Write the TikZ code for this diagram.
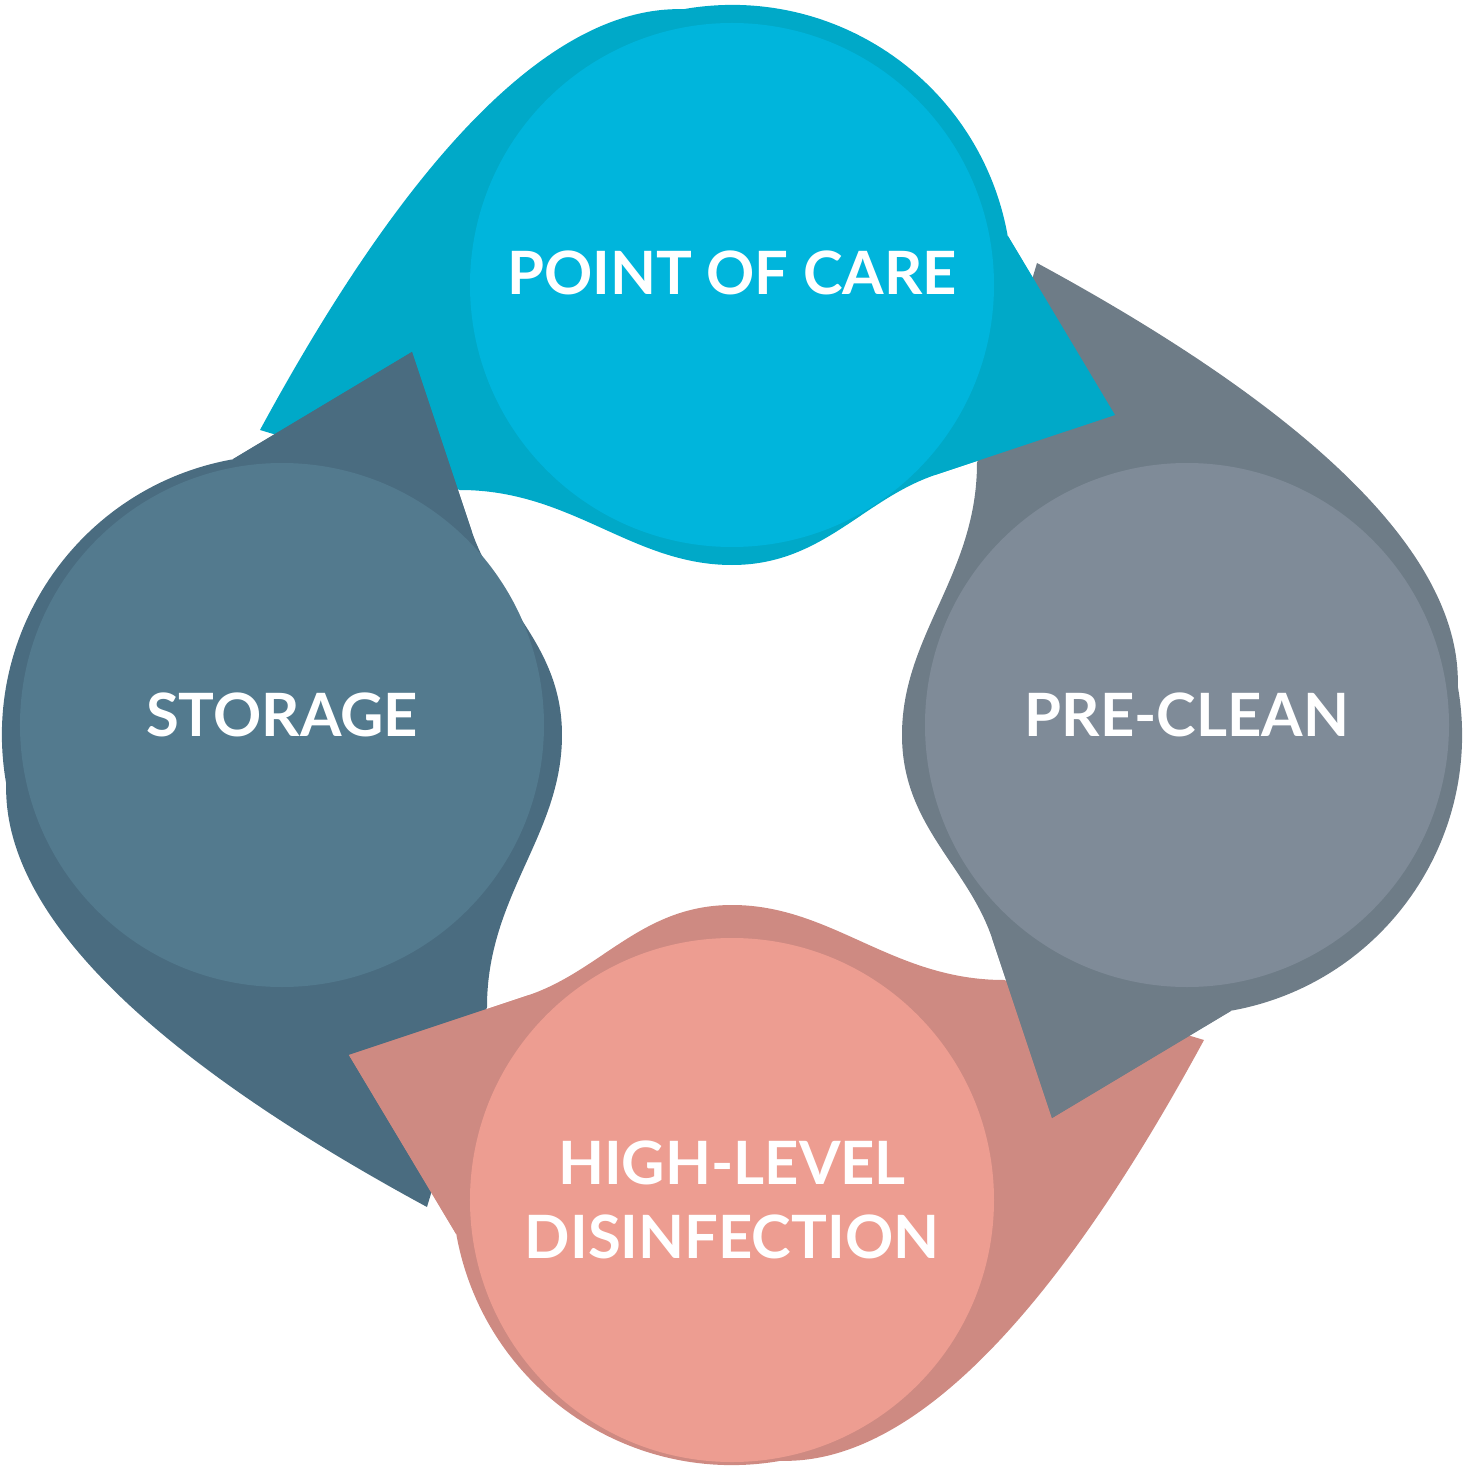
\documentclass[tikz,border=0pt]{standalone}
\usepackage{fontspec}
\setmainfont{Lato}
\definecolor{careout}{HTML}{00A9C8}
\definecolor{carein}{HTML}{00B5DC}
\definecolor{storeout}{HTML}{4A6C80}
\definecolor{storein}{HTML}{537A8E}
\definecolor{hldout}{HTML}{CE8A82}
\definecolor{hldin}{HTML}{ED9D91}
\definecolor{preout}{HTML}{6E7C87}
\definecolor{prein}{HTML}{7F8B98}
\begin{document}
\begin{tikzpicture}[
    every node/.style={font=\fontsize{17}{21}\selectfont\bfseries, text=white, align=center},
    stage/.style={circle, minimum size=5.24cm, inner sep=0pt}]

    \useasboundingbox (-7.32,-7.40) rectangle (7.34,7.35);

    % blob bodies
    \foreach \ang/\col in {0/careout, 90/storeout, 180/hldout, 270/preout}
        \fill[\col, rotate=\ang] (-4.72,3.05) .. controls (-3.5,5.3) and (-2.0,7.3) .. (-0.486,7.258)
            arc[start angle=100, end angle=10, radius=2.8]
            -- (3.83,3.2) -- (2.03,2.6) .. controls (1.3,2.35) and (0.9,1.7) .. (0,1.7)
            .. controls (-1,1.7) and (-1.6,2.45) .. (-2.72,2.45) -- cycle;

    % arrow heads on top
    \foreach \ang/\col in {0/careout, 90/storeout, 180/hldout, 270/preout}
        \fill[\col, rotate=\ang] (2.76,4.99) -- (3.83,3.2) -- (2.03,2.6) -- (1.8,4.2) -- cycle;

    \node[stage, fill=carein] (care) at (0,4.5) {\raisebox{2.5mm}{POINT OF CARE}};
    \node[stage, fill=storein] (storage) at (-4.5,0.1) {\raisebox{2mm}{STORAGE}};
    \node[stage, fill=hldin] (hld) at (0,-4.65) {HIGH-LEVEL\\DISINFECTION};
    \node[stage, fill=prein] (preclean) at (4.55,0.1) {\raisebox{2mm}{PRE-CLEAN}};

\end{tikzpicture}
\end{document}
